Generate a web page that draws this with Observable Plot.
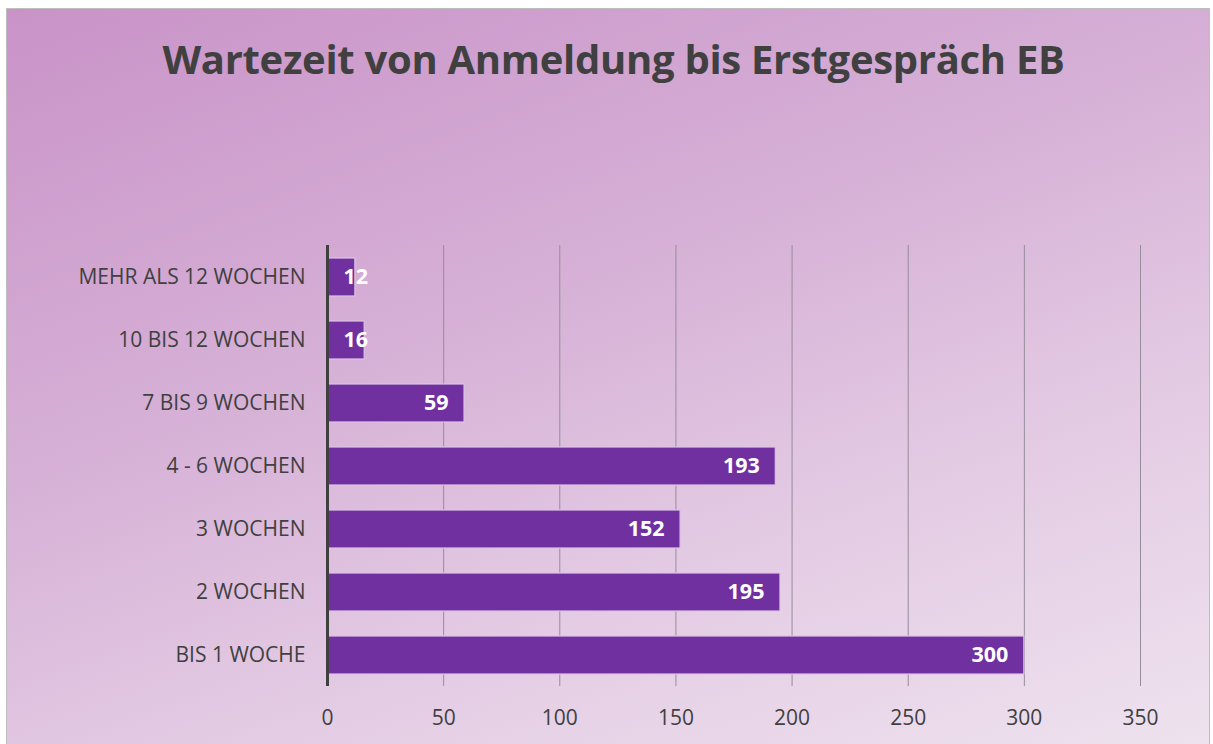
<!DOCTYPE html>
<html><head><meta charset="utf-8">
<script src="https://cdn.jsdelivr.net/npm/d3@7"></script>
<script src="https://cdn.jsdelivr.net/npm/@observablehq/plot@0.6"></script>
<style>
html,body{margin:0;padding:0;width:1213px;height:744px;overflow:hidden;background:#fff;}
#frame{position:absolute;left:6px;top:8px;width:1204px;height:736px;box-sizing:border-box;border:1px solid #bdbdbd;border-bottom:none;
 background:linear-gradient(160deg,#c993c8 0%,#d6b0d6 40%,#e4cce4 70%,#eee2ee 100%);}
#title{position:absolute;left:7px;top:31px;width:1213px;text-align:center;font-family:"Open Sans",sans-serif;font-weight:700;font-size:40px;color:#404040;letter-spacing:-0.3px;}
#chart{position:absolute;left:0;top:0;}
</style></head>
<body>
<div id="frame"></div>
<div id="title">Wartezeit von Anmeldung bis Erstgespräch EB</div>
<div id="chart"></div>
<script>
const categories = ["MEHR ALS 12 WOCHEN","10 BIS 12 WOCHEN","7 BIS 9 WOCHEN","4 - 6 WOCHEN","3 WOCHEN","2 WOCHEN","BIS 1 WOCHE"];
const values = [12,16,59,193,152,195,300];
const xTicks = [0,50,100,150,200,250,300,350];
const data = categories.map((c,i)=>({category:c, value:values[i]}));

const chart = Plot.plot({
  width:1213, height:744,
  marginLeft:327, marginRight:73, marginTop:245, marginBottom:58,
  style:{background:"transparent", fontFamily:"'Open Sans', sans-serif", fontSize:"21px", color:"#404040"},
  x:{domain:[0,350], ticks:xTicks, tickSize:0, tickPadding:24, label:null},
  y:{domain:categories, paddingInner:0.4, paddingOuter:0.2, tickSize:0, tickPadding:22, label:null},
  marks:[
    Plot.gridX(xTicks.filter(t=>t>0), {stroke:"#958d9a", strokeOpacity:1, strokeWidth:1}),
    Plot.barX(data, {y:"category", x:"value", fill:"#7030a0", stroke:"#dcc4e4", strokeWidth:1.2}),
    Plot.text(data.filter(d=>d.value>=30), {y:"category", x:"value", text:d=>String(d.value), textAnchor:"end", dx:-16, fill:"white", fontWeight:"bold", fontSize:21.5}),
    Plot.text(data.filter(d=>d.value<30), {y:"category", x:0, text:d=>String(d.value), textAnchor:"start", dx:16, fill:"white", fontWeight:"bold", fontSize:21.5}),
    Plot.ruleX([0], {stroke:"#404040", strokeWidth:3})
  ]
});
document.getElementById("chart").appendChild(chart);
</script>
</body></html>
